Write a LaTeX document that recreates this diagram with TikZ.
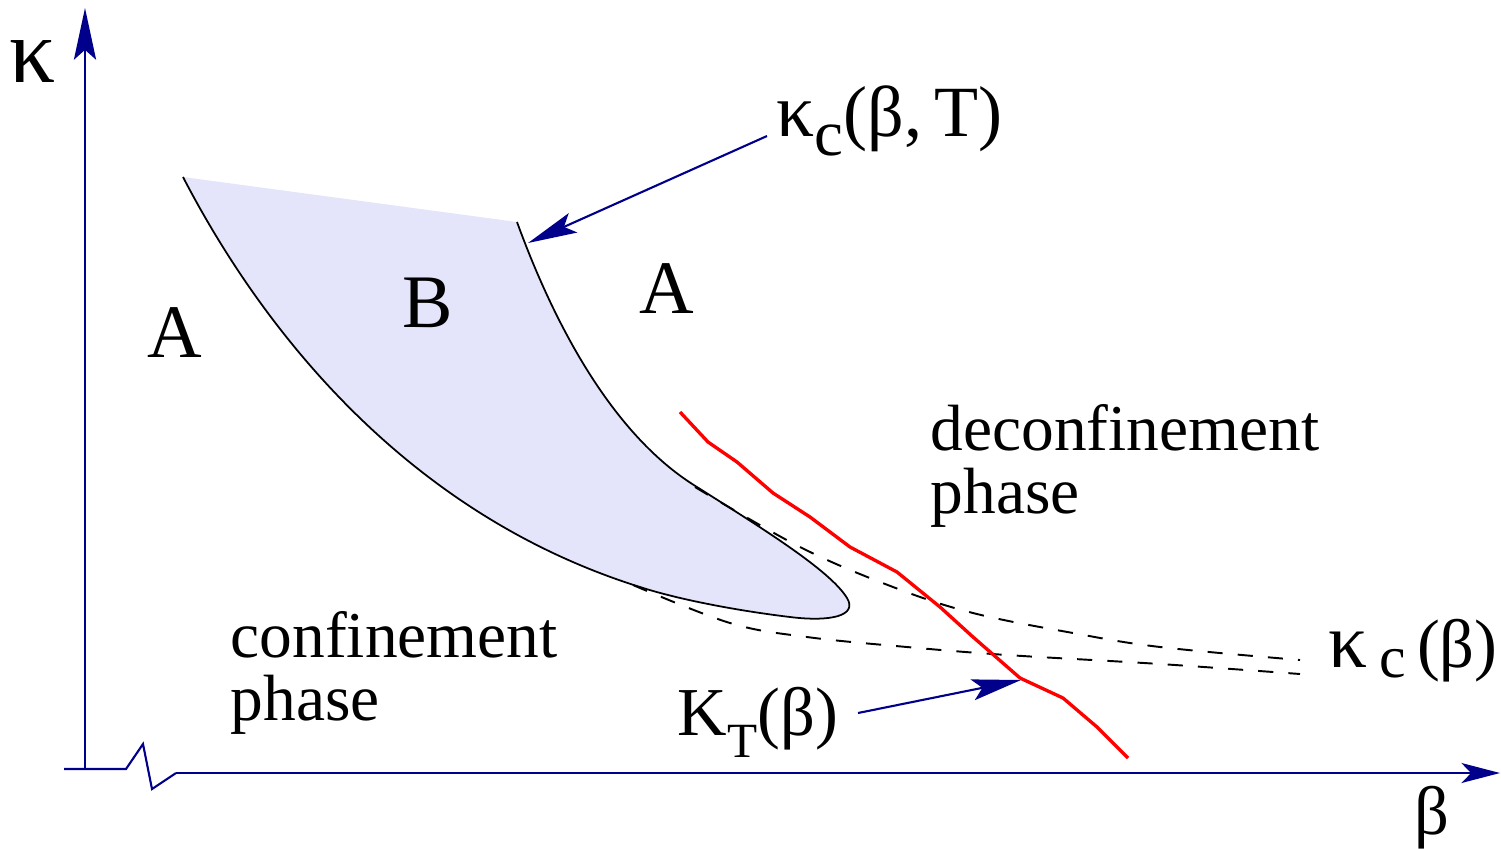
\documentclass[tikz,border=0pt]{standalone}
\usepackage{fontspec}
\setmainfont{Liberation Serif}
\usetikzlibrary{arrows.meta}
\definecolor{axisblue}{RGB}{0,0,139}
\definecolor{regfill}{RGB}{228,228,250}
\begin{document}
\begin{tikzpicture}[x=0.01cm,y=-0.01cm,
  lbl/.style={inner sep=0pt, font=\fontsize{19.5}{23}\selectfont},
  phaselbl/.style={inner sep=0pt, anchor=base west, font=\fontsize{18.6}{22}\selectfont},
  reglbl/.style={inner sep=0pt, font=\fontsize{21.5}{25}\selectfont},
  axisline/.style={draw=axisblue, line width=0.6pt},
  ptr/.style={draw=axisblue, line width=0.6pt, -{Stealth[length=14pt,width=6pt,inset=2.8pt]}},
  bdry/.style={draw=black, line width=0.5pt},
  crit/.style={draw=black, line width=0.55pt, dash pattern=on 4.3pt off 4.3pt},
  ktline/.style={draw=red, line width=0.95pt, line join=round}]
\useasboundingbox (0,0) rectangle (1501,848);

% axes
\coordinate (o) at (85,769);
\coordinate (ytip) at (85,8);
\draw[axisline, -{Stealth[length=14.7pt,width=6.3pt,inset=2.8pt]}] (o) -- (ytip);
\coordinate (xs) at (64,769);
\coordinate (b1) at (126,769);
\coordinate (b2) at (143,744);
\coordinate (b3) at (152,789);
\coordinate (b4) at (176,773);
\coordinate (xtip) at (1500,773);
\draw[axisline, line join=miter] (xs) -- (b1) -- (b2) -- (b3) -- (b4);
\draw[axisline, -{Stealth[length=11pt,width=5.7pt,inset=2.8pt]}] (b4) -- (xtip);
\node[lbl, font=\fontsize{26}{26}\selectfont] (kaxis) at (33,62) {κ};
\node[lbl] (baxis) at (1432,818) {β};

% region B
\coordinate (rtop) at (517,222);
\coordinate (ltop) at (183,177);
\fill[regfill] (rtop) .. controls (560,340) and (620,440) .. (697,487)
  .. controls (760,527) and (830,570) .. (847,598)
  .. controls (858,616) and (830,622) .. (790,617)
  .. controls (740,611) and (680,600) .. (640,587)
  .. controls (410,515) and (265,335) .. (ltop) -- cycle;
\draw[bdry] (rtop) .. controls (560,340) and (620,440) .. (697,487)
  .. controls (760,527) and (830,570) .. (847,598)
  .. controls (858,616) and (830,622) .. (790,617)
  .. controls (740,611) and (680,600) .. (640,587)
  .. controls (410,515) and (265,335) .. (ltop);

% critical lines kappa_c(beta)
\draw[crit] plot[smooth, tension=0.6] coordinates {(695,487) (800,547) (893,587) (973,613) (1073,633) (1160,647) (1300,660)};
\draw[crit] plot[smooth, tension=0.6] coordinates {(633,585) (730,623) (807,637) (907,647) (1007,655) (1160,664) (1300,674)};

% K_T line
\draw[ktline] (680,412) -- (708,442) -- (737,462) -- (773,493) -- (810,517) -- (850,547) -- (897,572) -- (940,607) -- (973,637) -- (1020,678) -- (1063,698) -- (1097,727) -- (1128,758);

% labels
\node[reglbl] (Aleft) at (175,333) {A};
\node[reglbl] (B) at (428,303) {B};
\node[reglbl] (Aright) at (667,289) {A};
\node[phaselbl] (deconf) at (930,450) {deconfinement};
\node[phaselbl] (deconfph) at (930,513) {phase};
\node[phaselbl] (conf) at (230,657) {confinement};
\node[phaselbl] (confph) at (230,720) {phase};
\node[lbl, anchor=base west, font=\fontsize{20.5}{24}\selectfont] (kcbT) at (776,136) {{\fontsize{21.5}{21.5}\selectfont κ}\raisebox{-5.6pt}{\fontsize{18.5}{18.5}\selectfont c}(β,\,T)};
\node[lbl, anchor=base west] (kcb) at (1328,667) {{\fontsize{22}{22}\selectfont κ}\,\raisebox{-3.1pt}{\fontsize{17}{17}\selectfont c}\,(β)};
\node[lbl, anchor=base west] (KT) at (677,735) {K\raisebox{-6.3pt}{\fontsize{14}{14}\selectfont T}(β)};

% pointers
\coordinate (p1s) at (767,136);
\coordinate (p1e) at (528,243);
\draw[ptr] (p1s) -- (p1e);
\coordinate (p2s) at (858,713);
\coordinate (p2e) at (1021,680);
\draw[ptr] (p2s) -- (p2e);
\end{tikzpicture}
\end{document}
